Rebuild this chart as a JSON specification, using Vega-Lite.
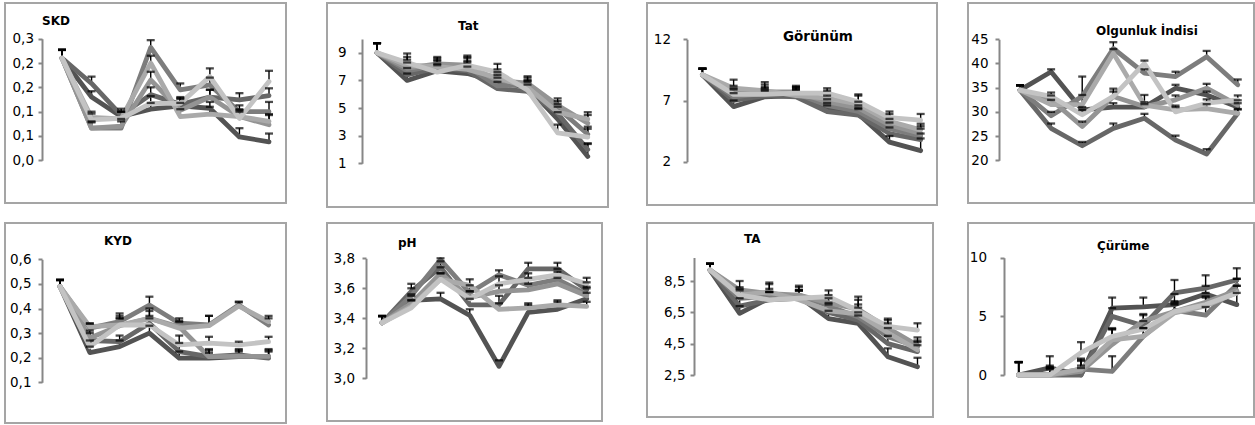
{
"$schema": "https://vega.github.io/schema/vega-lite/v6.json",
"padding": {"left": 4, "top": 2, "right": 0, "bottom": 0},
"config": {
 "view": {"stroke": "#a5a5a5", "strokeWidth": 2},
 "axis": {"domainColor": "#878787", "domainWidth": 2, "tickColor": "#878787", "tickWidth": 2, "tickSize": 4, "gridColor": "#878787", "gridWidth": 2, "gridOpacity": 1, "labelFont": "DejaVu Sans", "labelFontSize": 13.5, "labelColor": "#000000"},
 "title": {"font": "DejaVu Sans", "fontWeight": "bold", "color": "#000000", "fontSize": 12, "anchor": "start", "frame": "group"},
 "line": {"strokeWidth": 4.8, "strokeJoin": "round", "strokeCap": "round"},
 "rule": {"color": "#000000", "strokeWidth": 1.4},
 "tick": {"color": "#000000", "thickness": 2.3, "size": 8, "orient": "horizontal"}
},
"datasets": {
 "SKD": [
  {"s":"s1","i":1,"v":0.21,"hi":0.227},{"s":"s1","i":2,"v":0.13,"hi":0.142},{"s":"s1","i":3,"v":0.09,"hi":0.1},{"s":"s1","i":4,"v":0.105,"hi":0.118},{"s":"s1","i":5,"v":0.112,"hi":0.126},{"s":"s1","i":6,"v":0.107,"hi":0.12},{"s":"s1","i":7,"v":0.048,"hi":0.066},{"s":"s1","i":8,"v":0.038,"hi":0.055},
  {"s":"s2","i":1,"v":0.21,"hi":0.227},{"s":"s2","i":2,"v":0.158,"hi":0.172},{"s":"s2","i":3,"v":0.093,"hi":0.106},{"s":"s2","i":4,"v":0.135,"hi":0.15},{"s":"s2","i":5,"v":0.115,"hi":0.128},{"s":"s2","i":6,"v":0.13,"hi":0.145},{"s":"s2","i":7,"v":0.124,"hi":0.138},{"s":"s2","i":8,"v":0.133,"hi":0.148},
  {"s":"s3","i":1,"v":0.21,"hi":0.227},{"s":"s3","i":2,"v":0.066,"hi":0.078},{"s":"s3","i":3,"v":0.066,"hi":0.08},{"s":"s3","i":4,"v":0.232,"hi":0.247},{"s":"s3","i":5,"v":0.145,"hi":0.158},{"s":"s3","i":6,"v":0.155,"hi":0.17},{"s":"s3","i":7,"v":0.1,"hi":0.113},{"s":"s3","i":8,"v":0.1,"hi":0.12},
  {"s":"s4","i":1,"v":0.21,"hi":0.227},{"s":"s4","i":2,"v":0.066,"hi":0.08},{"s":"s4","i":3,"v":0.07,"hi":0.085},{"s":"s4","i":4,"v":0.165,"hi":0.182},{"s":"s4","i":5,"v":0.103,"hi":0.118},{"s":"s4","i":6,"v":0.13,"hi":0.145},{"s":"s4","i":7,"v":0.09,"hi":0.105},{"s":"s4","i":8,"v":0.073,"hi":0.093},
  {"s":"s5","i":1,"v":0.21,"hi":0.227},{"s":"s5","i":2,"v":0.088,"hi":0.1},{"s":"s5","i":3,"v":0.085,"hi":0.1},{"s":"s5","i":4,"v":0.2,"hi":0.215},{"s":"s5","i":5,"v":0.09,"hi":0.105},{"s":"s5","i":6,"v":0.095,"hi":0.11},{"s":"s5","i":7,"v":0.09,"hi":0.103},{"s":"s5","i":8,"v":0.08,"hi":0.095},
  {"s":"s6","i":1,"v":0.21,"hi":0.227},{"s":"s6","i":2,"v":0.083,"hi":0.096},{"s":"s6","i":3,"v":0.086,"hi":0.1},{"s":"s6","i":4,"v":0.117,"hi":0.132},{"s":"s6","i":5,"v":0.117,"hi":0.13},{"s":"s6","i":6,"v":0.172,"hi":0.189},{"s":"s6","i":7,"v":0.086,"hi":0.1},{"s":"s6","i":8,"v":0.162,"hi":0.184}
 ],
 "Tat": [
  {"s":"s1","i":1,"v":9.0,"hi":9.7},{"s":"s1","i":2,"v":7.0,"hi":7.5},{"s":"s1","i":3,"v":7.7,"hi":8.2},{"s":"s1","i":4,"v":7.5,"hi":8.0},{"s":"s1","i":5,"v":6.9,"hi":7.4},{"s":"s1","i":6,"v":6.5,"hi":7.0},{"s":"s1","i":7,"v":4.2,"hi":4.7},{"s":"s1","i":8,"v":1.5,"hi":2.4},
  {"s":"s2","i":1,"v":9.0,"hi":9.7},{"s":"s2","i":2,"v":7.4,"hi":7.9},{"s":"s2","i":3,"v":7.9,"hi":8.4},{"s":"s2","i":4,"v":7.7,"hi":8.3},{"s":"s2","i":5,"v":6.4,"hi":6.9},{"s":"s2","i":6,"v":6.2,"hi":6.7},{"s":"s2","i":7,"v":4.6,"hi":5.1},{"s":"s2","i":8,"v":2.0,"hi":2.45},
  {"s":"s3","i":1,"v":9.0,"hi":9.7},{"s":"s3","i":2,"v":7.7,"hi":8.3},{"s":"s3","i":3,"v":8.1,"hi":8.6},{"s":"s3","i":4,"v":8.0,"hi":8.6},{"s":"s3","i":5,"v":6.6,"hi":7.2},{"s":"s3","i":6,"v":6.7,"hi":7.2},{"s":"s3","i":7,"v":5.0,"hi":5.5},{"s":"s3","i":8,"v":3.1,"hi":3.65},
  {"s":"s4","i":1,"v":9.0,"hi":9.7},{"s":"s4","i":2,"v":7.9,"hi":8.5},{"s":"s4","i":3,"v":8.2,"hi":8.7},{"s":"s4","i":4,"v":8.1,"hi":8.7},{"s":"s4","i":5,"v":7.0,"hi":7.6},{"s":"s4","i":6,"v":6.8,"hi":7.3},{"s":"s4","i":7,"v":5.2,"hi":5.7},{"s":"s4","i":8,"v":3.9,"hi":4.5},
  {"s":"s5","i":1,"v":9.0,"hi":9.7},{"s":"s5","i":2,"v":8.1,"hi":8.7},{"s":"s5","i":3,"v":8.0,"hi":8.5},{"s":"s5","i":4,"v":7.8,"hi":8.4},{"s":"s5","i":5,"v":7.2,"hi":7.8},{"s":"s5","i":6,"v":6.5,"hi":7.0},{"s":"s5","i":7,"v":4.7,"hi":5.3},{"s":"s5","i":8,"v":4.2,"hi":4.7},
  {"s":"s6","i":1,"v":9.0,"hi":9.7},{"s":"s6","i":2,"v":8.3,"hi":8.95},{"s":"s6","i":3,"v":7.6,"hi":8.1},{"s":"s6","i":4,"v":8.1,"hi":8.8},{"s":"s6","i":5,"v":7.6,"hi":8.2},{"s":"s6","i":6,"v":6.3,"hi":6.9},{"s":"s6","i":7,"v":3.2,"hi":3.8},{"s":"s6","i":8,"v":2.9,"hi":3.5}
 ],
 "Gorunum": [
  {"s":"s1","i":1,"v":9.1,"hi":9.6},{"s":"s1","i":2,"v":6.5,"hi":7.0},{"s":"s1","i":3,"v":7.3,"hi":7.8},{"s":"s1","i":4,"v":7.4,"hi":7.9},{"s":"s1","i":5,"v":6.3,"hi":6.8},{"s":"s1","i":6,"v":5.9,"hi":6.4},{"s":"s1","i":7,"v":3.6,"hi":4.1},{"s":"s1","i":8,"v":2.9,"hi":3.9},
  {"s":"s2","i":1,"v":9.1,"hi":9.6},{"s":"s2","i":2,"v":7.0,"hi":7.6},{"s":"s2","i":3,"v":7.4,"hi":7.9},{"s":"s2","i":4,"v":7.3,"hi":7.9},{"s":"s2","i":5,"v":6.1,"hi":6.6},{"s":"s2","i":6,"v":5.8,"hi":6.3},{"s":"s2","i":7,"v":4.3,"hi":4.8},{"s":"s2","i":8,"v":3.8,"hi":4.3},
  {"s":"s3","i":1,"v":9.1,"hi":9.6},{"s":"s3","i":2,"v":7.3,"hi":7.9},{"s":"s3","i":3,"v":7.6,"hi":8.1},{"s":"s3","i":4,"v":7.6,"hi":8.1},{"s":"s3","i":5,"v":6.6,"hi":7.1},{"s":"s3","i":6,"v":6.1,"hi":6.6},{"s":"s3","i":7,"v":4.7,"hi":5.2},{"s":"s3","i":8,"v":4.1,"hi":4.7},
  {"s":"s4","i":1,"v":9.1,"hi":9.6},{"s":"s4","i":2,"v":7.6,"hi":8.2},{"s":"s4","i":3,"v":7.7,"hi":8.3},{"s":"s4","i":4,"v":7.7,"hi":8.2},{"s":"s4","i":5,"v":6.9,"hi":7.4},{"s":"s4","i":6,"v":6.4,"hi":6.9},{"s":"s4","i":7,"v":5.0,"hi":5.5},{"s":"s4","i":8,"v":4.3,"hi":4.9},
  {"s":"s5","i":1,"v":9.1,"hi":9.6},{"s":"s5","i":2,"v":8.0,"hi":8.7},{"s":"s5","i":3,"v":7.8,"hi":8.5},{"s":"s5","i":4,"v":7.4,"hi":8.0},{"s":"s5","i":5,"v":7.2,"hi":7.8},{"s":"s5","i":6,"v":6.7,"hi":7.4},{"s":"s5","i":7,"v":5.3,"hi":5.9},{"s":"s5","i":8,"v":4.6,"hi":5.1},
  {"s":"s6","i":1,"v":9.1,"hi":9.6},{"s":"s6","i":2,"v":7.5,"hi":8.0},{"s":"s6","i":3,"v":7.5,"hi":8.0},{"s":"s6","i":4,"v":7.6,"hi":8.1},{"s":"s6","i":5,"v":7.6,"hi":8.0},{"s":"s6","i":6,"v":6.9,"hi":7.5},{"s":"s6","i":7,"v":5.6,"hi":6.1},{"s":"s6","i":8,"v":5.4,"hi":5.9}
 ],
 "Olgunluk": [
  {"s":"s1","i":1,"v":34.5,"hi":35.5},{"s":"s1","i":2,"v":38.3,"hi":38.8},{"s":"s1","i":3,"v":30.4,"hi":31.0},{"s":"s1","i":4,"v":31.0,"hi":31.8},{"s":"s1","i":5,"v":31.0,"hi":31.6},{"s":"s1","i":6,"v":34.9,"hi":35.6},{"s":"s1","i":7,"v":33.5,"hi":34.2},{"s":"s1","i":8,"v":31.0,"hi":31.8},
  {"s":"s2","i":1,"v":34.5,"hi":35.5},{"s":"s2","i":2,"v":26.6,"hi":27.6},{"s":"s2","i":3,"v":23.0,"hi":23.8},{"s":"s2","i":4,"v":26.6,"hi":27.6},{"s":"s2","i":5,"v":28.7,"hi":29.6},{"s":"s2","i":6,"v":24.2,"hi":25.1},{"s":"s2","i":7,"v":21.3,"hi":22.3},{"s":"s2","i":8,"v":29.7,"hi":30.5},
  {"s":"s3","i":1,"v":34.5,"hi":35.5},{"s":"s3","i":2,"v":29.2,"hi":30.0},{"s":"s3","i":3,"v":33.2,"hi":37.3},{"s":"s3","i":4,"v":43.1,"hi":44.4},{"s":"s3","i":5,"v":38.0,"hi":38.8},{"s":"s3","i":6,"v":37.3,"hi":38.3},{"s":"s3","i":7,"v":41.4,"hi":42.6},{"s":"s3","i":8,"v":35.6,"hi":36.7},
  {"s":"s4","i":1,"v":34.5,"hi":35.5},{"s":"s4","i":2,"v":32.5,"hi":33.4},{"s":"s4","i":3,"v":27.0,"hi":28.0},{"s":"s4","i":4,"v":33.2,"hi":34.2},{"s":"s4","i":5,"v":31.1,"hi":32.0},{"s":"s4","i":6,"v":32.5,"hi":33.4},{"s":"s4","i":7,"v":34.9,"hi":35.8},{"s":"s4","i":8,"v":31.4,"hi":32.4},
  {"s":"s5","i":1,"v":34.5,"hi":35.5},{"s":"s5","i":2,"v":31.5,"hi":32.5},{"s":"s5","i":3,"v":31.5,"hi":33.5},{"s":"s5","i":4,"v":42.1,"hi":43.0},{"s":"s5","i":5,"v":31.4,"hi":33.5},{"s":"s5","i":6,"v":30.4,"hi":31.3},{"s":"s5","i":7,"v":30.7,"hi":31.6},{"s":"s5","i":8,"v":29.7,"hi":30.6},
  {"s":"s6","i":1,"v":34.5,"hi":35.5},{"s":"s6","i":2,"v":33.2,"hi":34.0},{"s":"s6","i":3,"v":29.4,"hi":30.4},{"s":"s6","i":4,"v":33.2,"hi":34.8},{"s":"s6","i":5,"v":40.0,"hi":40.6},{"s":"s6","i":6,"v":30.0,"hi":31.0},{"s":"s6","i":7,"v":31.8,"hi":32.6},{"s":"s6","i":8,"v":32.5,"hi":33.4}
 ],
 "KYD": [
  {"s":"s1","i":1,"v":0.489,"hi":0.516},{"s":"s1","i":2,"v":0.221,"hi":0.245},{"s":"s1","i":3,"v":0.245,"hi":0.27},{"s":"s1","i":4,"v":0.3,"hi":0.33},{"s":"s1","i":5,"v":0.198,"hi":0.225},{"s":"s1","i":6,"v":0.198,"hi":0.22},{"s":"s1","i":7,"v":0.204,"hi":0.225},{"s":"s1","i":8,"v":0.204,"hi":0.23},
  {"s":"s2","i":1,"v":0.489,"hi":0.516},{"s":"s2","i":2,"v":0.27,"hi":0.3},{"s":"s2","i":3,"v":0.265,"hi":0.29},{"s":"s2","i":4,"v":0.34,"hi":0.37},{"s":"s2","i":5,"v":0.225,"hi":0.26},{"s":"s2","i":6,"v":0.204,"hi":0.235},{"s":"s2","i":7,"v":0.211,"hi":0.235},{"s":"s2","i":8,"v":0.198,"hi":0.225},
  {"s":"s3","i":1,"v":0.489,"hi":0.516},{"s":"s3","i":2,"v":0.32,"hi":0.34},{"s":"s3","i":3,"v":0.347,"hi":0.38},{"s":"s3","i":4,"v":0.414,"hi":0.448},{"s":"s3","i":5,"v":0.34,"hi":0.36},{"s":"s3","i":6,"v":0.333,"hi":0.37},{"s":"s3","i":7,"v":0.414,"hi":0.428},{"s":"s3","i":8,"v":0.333,"hi":0.36},
  {"s":"s4","i":1,"v":0.489,"hi":0.516},{"s":"s4","i":2,"v":0.28,"hi":0.31},{"s":"s4","i":3,"v":0.33,"hi":0.36},{"s":"s4","i":4,"v":0.36,"hi":0.4},{"s":"s4","i":5,"v":0.326,"hi":0.35},{"s":"s4","i":6,"v":0.204,"hi":0.23},{"s":"s4","i":7,"v":0.205,"hi":0.23},{"s":"s4","i":8,"v":0.205,"hi":0.235},
  {"s":"s5","i":1,"v":0.489,"hi":0.516},{"s":"s5","i":2,"v":0.326,"hi":0.338},{"s":"s5","i":3,"v":0.333,"hi":0.37},{"s":"s5","i":4,"v":0.36,"hi":0.39},{"s":"s5","i":5,"v":0.32,"hi":0.345},{"s":"s5","i":6,"v":0.33,"hi":0.37},{"s":"s5","i":7,"v":0.41,"hi":0.425},{"s":"s5","i":8,"v":0.347,"hi":0.37},
  {"s":"s6","i":1,"v":0.489,"hi":0.516},{"s":"s6","i":2,"v":0.245,"hi":0.27},{"s":"s6","i":3,"v":0.333,"hi":0.36},{"s":"s6","i":4,"v":0.333,"hi":0.36},{"s":"s6","i":5,"v":0.252,"hi":0.29},{"s":"s6","i":6,"v":0.259,"hi":0.285},{"s":"s6","i":7,"v":0.252,"hi":0.265},{"s":"s6","i":8,"v":0.265,"hi":0.285}
 ],
 "pH": [
  {"s":"s1","i":1,"v":3.37,"hi":3.415},{"s":"s1","i":2,"v":3.52,"hi":3.56},{"s":"s1","i":3,"v":3.53,"hi":3.57},{"s":"s1","i":4,"v":3.42,"hi":3.46},{"s":"s1","i":5,"v":3.08,"hi":3.12},{"s":"s1","i":6,"v":3.44,"hi":3.49},{"s":"s1","i":7,"v":3.46,"hi":3.51},{"s":"s1","i":8,"v":3.53,"hi":3.57},
  {"s":"s2","i":1,"v":3.37,"hi":3.415},{"s":"s2","i":2,"v":3.58,"hi":3.63},{"s":"s2","i":3,"v":3.74,"hi":3.78},{"s":"s2","i":4,"v":3.49,"hi":3.53},{"s":"s2","i":5,"v":3.49,"hi":3.55},{"s":"s2","i":6,"v":3.73,"hi":3.77},{"s":"s2","i":7,"v":3.73,"hi":3.77},{"s":"s2","i":8,"v":3.59,"hi":3.64},
  {"s":"s3","i":1,"v":3.37,"hi":3.415},{"s":"s3","i":2,"v":3.55,"hi":3.6},{"s":"s3","i":3,"v":3.79,"hi":3.8},{"s":"s3","i":4,"v":3.57,"hi":3.62},{"s":"s3","i":5,"v":3.69,"hi":3.72},{"s":"s3","i":6,"v":3.62,"hi":3.67},{"s":"s3","i":7,"v":3.66,"hi":3.71},{"s":"s3","i":8,"v":3.56,"hi":3.61},
  {"s":"s4","i":1,"v":3.37,"hi":3.415},{"s":"s4","i":2,"v":3.5,"hi":3.55},{"s":"s4","i":3,"v":3.7,"hi":3.74},{"s":"s4","i":4,"v":3.54,"hi":3.58},{"s":"s4","i":5,"v":3.58,"hi":3.62},{"s":"s4","i":6,"v":3.59,"hi":3.63},{"s":"s4","i":7,"v":3.63,"hi":3.67},{"s":"s4","i":8,"v":3.55,"hi":3.6},
  {"s":"s5","i":1,"v":3.37,"hi":3.415},{"s":"s5","i":2,"v":3.48,"hi":3.52},{"s":"s5","i":3,"v":3.66,"hi":3.7},{"s":"s5","i":4,"v":3.62,"hi":3.66},{"s":"s5","i":5,"v":3.46,"hi":3.5},{"s":"s5","i":6,"v":3.47,"hi":3.5},{"s":"s5","i":7,"v":3.49,"hi":3.52},{"s":"s5","i":8,"v":3.48,"hi":3.51},
  {"s":"s6","i":1,"v":3.37,"hi":3.415},{"s":"s6","i":2,"v":3.47,"hi":3.52},{"s":"s6","i":3,"v":3.66,"hi":3.7},{"s":"s6","i":4,"v":3.53,"hi":3.58},{"s":"s6","i":5,"v":3.63,"hi":3.68},{"s":"s6","i":6,"v":3.66,"hi":3.7},{"s":"s6","i":7,"v":3.69,"hi":3.73},{"s":"s6","i":8,"v":3.63,"hi":3.67}
 ],
 "TA": [
  {"s":"s1","i":1,"v":9.2,"hi":9.6},{"s":"s1","i":2,"v":6.44,"hi":6.9},{"s":"s1","i":3,"v":7.4,"hi":7.8},{"s":"s1","i":4,"v":7.5,"hi":7.9},{"s":"s1","i":5,"v":6.1,"hi":6.6},{"s":"s1","i":6,"v":5.8,"hi":6.3},{"s":"s1","i":7,"v":3.67,"hi":4.2},{"s":"s1","i":8,"v":3.03,"hi":3.6},
  {"s":"s2","i":1,"v":9.2,"hi":9.6},{"s":"s2","i":2,"v":6.9,"hi":7.4},{"s":"s2","i":3,"v":7.3,"hi":7.8},{"s":"s2","i":4,"v":7.4,"hi":7.9},{"s":"s2","i":5,"v":6.5,"hi":7.0},{"s":"s2","i":6,"v":6.0,"hi":6.5},{"s":"s2","i":7,"v":4.5,"hi":5.0},{"s":"s2","i":8,"v":3.99,"hi":4.4},
  {"s":"s3","i":1,"v":9.2,"hi":9.6},{"s":"s3","i":2,"v":7.4,"hi":7.9},{"s":"s3","i":3,"v":7.5,"hi":8.0},{"s":"s3","i":4,"v":7.6,"hi":8.1},{"s":"s3","i":5,"v":6.9,"hi":7.4},{"s":"s3","i":6,"v":6.2,"hi":6.8},{"s":"s3","i":7,"v":4.95,"hi":5.5},{"s":"s3","i":8,"v":4.3,"hi":4.7},
  {"s":"s4","i":1,"v":9.2,"hi":9.6},{"s":"s4","i":2,"v":7.93,"hi":8.5},{"s":"s4","i":3,"v":7.7,"hi":8.3},{"s":"s4","i":4,"v":7.6,"hi":8.2},{"s":"s4","i":5,"v":7.1,"hi":7.6},{"s":"s4","i":6,"v":6.7,"hi":7.3},{"s":"s4","i":7,"v":5.5,"hi":6.0},{"s":"s4","i":8,"v":4.4,"hi":4.9},
  {"s":"s5","i":1,"v":9.2,"hi":9.6},{"s":"s5","i":2,"v":7.6,"hi":8.1},{"s":"s5","i":3,"v":7.8,"hi":8.4},{"s":"s5","i":4,"v":7.3,"hi":7.9},{"s":"s5","i":5,"v":6.6,"hi":7.1},{"s":"s5","i":6,"v":6.4,"hi":7.0},{"s":"s5","i":7,"v":5.2,"hi":5.8},{"s":"s5","i":8,"v":4.1,"hi":4.6},
  {"s":"s6","i":1,"v":9.2,"hi":9.6},{"s":"s6","i":2,"v":7.6,"hi":8.0},{"s":"s6","i":3,"v":7.3,"hi":7.8},{"s":"s6","i":4,"v":7.4,"hi":7.9},{"s":"s6","i":5,"v":7.5,"hi":7.9},{"s":"s6","i":6,"v":6.6,"hi":7.5},{"s":"s6","i":7,"v":5.6,"hi":6.1},{"s":"s6","i":8,"v":5.37,"hi":5.8}
 ],
 "Curume": [
  {"s":"s1","i":1,"v":0,"hi":1.1},{"s":"s1","i":2,"v":0.6,"hi":1.6},{"s":"s1","i":3,"v":0,"hi":0.8},{"s":"s1","i":4,"v":5.7,"hi":6.6},{"s":"s1","i":5,"v":5.8,"hi":6.6},{"s":"s1","i":6,"v":6.0,"hi":6.9},{"s":"s1","i":7,"v":6.9,"hi":7.6},{"s":"s1","i":8,"v":6.0,"hi":7.0},
  {"s":"s2","i":1,"v":0,"hi":1.1},{"s":"s2","i":2,"v":0,"hi":0.8},{"s":"s2","i":3,"v":0,"hi":0.6},{"s":"s2","i":4,"v":5.0,"hi":5.7},{"s":"s2","i":5,"v":4.2,"hi":5.2},{"s":"s2","i":6,"v":7.0,"hi":8.1},{"s":"s2","i":7,"v":7.4,"hi":8.5},{"s":"s2","i":8,"v":8.1,"hi":9.1},
  {"s":"s3","i":1,"v":0,"hi":1.1},{"s":"s3","i":2,"v":0,"hi":0.7},{"s":"s3","i":3,"v":0.5,"hi":1.2},{"s":"s3","i":4,"v":0.3,"hi":1.6},{"s":"s3","i":5,"v":3.3,"hi":4.0},{"s":"s3","i":6,"v":5.5,"hi":6.3},{"s":"s3","i":7,"v":5.1,"hi":5.8},{"s":"s3","i":8,"v":7.7,"hi":8.2},
  {"s":"s4","i":1,"v":0,"hi":1.1},{"s":"s4","i":2,"v":0,"hi":0.6},{"s":"s4","i":3,"v":0.3,"hi":1.3},{"s":"s4","i":4,"v":2.6,"hi":3.9},{"s":"s4","i":5,"v":4.6,"hi":5.1},{"s":"s4","i":6,"v":5.4,"hi":6.2},{"s":"s4","i":7,"v":6.2,"hi":7.0},{"s":"s4","i":8,"v":7.2,"hi":8.2},
  {"s":"s5","i":1,"v":0,"hi":1.1},{"s":"s5","i":2,"v":0,"hi":0.5},{"s":"s5","i":3,"v":0.5,"hi":1.4},{"s":"s5","i":4,"v":3.0,"hi":3.9},{"s":"s5","i":5,"v":3.3,"hi":4.0},{"s":"s5","i":6,"v":5.3,"hi":6.0},{"s":"s5","i":7,"v":5.9,"hi":6.6},{"s":"s5","i":8,"v":7.0,"hi":7.6},
  {"s":"s6","i":1,"v":0,"hi":1.1},{"s":"s6","i":2,"v":0,"hi":0.6},{"s":"s6","i":3,"v":1.9,"hi":2.8},{"s":"s6","i":4,"v":3.3,"hi":4.0},{"s":"s6","i":5,"v":3.9,"hi":4.6},{"s":"s6","i":6,"v":5.4,"hi":6.1},{"s":"s6","i":7,"v":6.0,"hi":6.7},{"s":"s6","i":8,"v":7.0,"hi":7.6}
 ]
},
"vconcat": [
 {"hconcat": [
  {"hconcat": [
   {"width": 281, "height": 200, "data": {"name": "SKD"},
    "title": {"text": "SKD", "dx": 37, "offset": -25},
    "resolve": {"axis": {"y": "independent"}},
    "encoding": {"x": {"field": "i", "type": "quantitative", "axis": null, "scale": {"domain": [0.324, 8.507], "range": [37, 279], "nice": false, "zero": false}}},
    "layer": [
     {"mark": "rule", "encoding": {"y": {"field": "v", "type": "quantitative", "scale": {"domain": [0, 0.25], "range": [157.3, 35.7], "nice": false, "zero": false}, "axis": null}, "y2": {"field": "hi"}}},
     {"mark": "line", "encoding": {
       "y": {"field": "v", "type": "quantitative", "scale": {"domain": [0, 0.25], "range": [157.3, 35.7], "nice": false, "zero": false}, "axis": {"title": null, "values": [0, 0.05, 0.1, 0.15, 0.2, 0.25], "offset": -37, "labelPadding": 4.5, "labelExpr": "replace(format(datum.value + 0.0001, '.1f'), '.', ',')"}},
       "color": {"field": "s", "type": "nominal", "legend": null, "scale": {"domain": ["s1","s2","s3","s4","s5","s6"], "range": ["#535353","#676767","#7d7d7d","#949494","#aaaaaa","#c3c3c3"]}}}},
     {"mark": "tick", "encoding": {"y": {"field": "hi", "type": "quantitative", "scale": {"domain": [0, 0.25], "range": [157.3, 35.7], "nice": false, "zero": false}, "axis": null}}}
    ]},
   {"width": 281, "height": 204, "data": {"name": "Tat"},
    "title": {"text": "Tat", "dx": 131, "offset": -29.5},
    "resolve": {"axis": {"y": "independent"}},
    "encoding": {"x": {"field": "i", "type": "quantitative", "axis": null, "scale": {"domain": [0.5, 8.44], "range": [35, 274], "nice": false, "zero": false}}},
    "layer": [
     {"mark": "rule", "encoding": {"y": {"field": "v", "type": "quantitative", "scale": {"domain": [1, 10], "range": [160.3, 36], "nice": false, "zero": false}, "axis": null}, "y2": {"field": "hi"}}},
     {"mark": "line", "encoding": {
       "y": {"field": "v", "type": "quantitative", "scale": {"domain": [1, 10], "range": [160.3, 36], "nice": false, "zero": false}, "axis": {"title": null, "values": [1, 3, 5, 7, 9], "offset": -35, "labelPadding": 12, "format": "d"}},
       "color": {"field": "s", "type": "nominal", "legend": null, "scale": {"domain": ["s1","s2","s3","s4","s5","s6"], "range": ["#535353","#676767","#7d7d7d","#949494","#aaaaaa","#c3c3c3"]}}}},
     {"mark": "tick", "encoding": {"y": {"field": "hi", "type": "quantitative", "scale": {"domain": [1, 10], "range": [160.3, 36], "nice": false, "zero": false}, "axis": null}}}
    ]}
  ], "spacing": 39},
  {"hconcat": [
   {"width": 290, "height": 202, "data": {"name": "Gorunum"},
    "title": {"text": "Görünüm", "dx": 136, "offset": -40, "fontSize": 13.5},
    "resolve": {"axis": {"y": "independent"}},
    "encoding": {"x": {"field": "i", "type": "quantitative", "axis": null, "scale": {"domain": [0.505, 8.46], "range": [40, 288], "nice": false, "zero": false}}},
    "layer": [
     {"mark": "rule", "encoding": {"y": {"field": "v", "type": "quantitative", "scale": {"domain": [2, 12], "range": [158.7, 36.3], "nice": false, "zero": false}, "axis": null}, "y2": {"field": "hi"}}},
     {"mark": "line", "encoding": {
       "y": {"field": "v", "type": "quantitative", "scale": {"domain": [2, 12], "range": [158.7, 36.3], "nice": false, "zero": false}, "axis": {"title": null, "values": [2, 7, 12], "offset": -40, "labelPadding": 12.5, "format": "d"}},
       "color": {"field": "s", "type": "nominal", "legend": null, "scale": {"domain": ["s1","s2","s3","s4","s5","s6"], "range": ["#535353","#676767","#7d7d7d","#949494","#aaaaaa","#c3c3c3"]}}}},
     {"mark": "tick", "encoding": {"y": {"field": "hi", "type": "quantitative", "scale": {"domain": [2, 12], "range": [158.7, 36.3], "nice": false, "zero": false}, "axis": null}}}
    ]},
   {"width": 286, "height": 200, "data": {"name": "Olgunluk"},
    "title": {"text": "Olgunluk İndisi", "dx": 128, "offset": -34.5},
    "resolve": {"axis": {"y": "independent"}},
    "encoding": {"x": {"field": "i", "type": "quantitative", "axis": null, "scale": {"domain": [0.325, 8.49], "range": [31, 285], "nice": false, "zero": false}}},
    "layer": [
     {"mark": "rule", "encoding": {"y": {"field": "v", "type": "quantitative", "scale": {"domain": [20, 45], "range": [157.3, 36.3], "nice": false, "zero": false}, "axis": null}, "y2": {"field": "hi"}}},
     {"mark": "line", "encoding": {
       "y": {"field": "v", "type": "quantitative", "scale": {"domain": [20, 45], "range": [157.3, 36.3], "nice": false, "zero": false}, "axis": {"title": null, "values": [20, 25, 30, 35, 40, 45], "offset": -31, "labelPadding": 7, "format": "d"}},
       "color": {"field": "s", "type": "nominal", "legend": null, "scale": {"domain": ["s1","s2","s3","s4","s5","s6"], "range": ["#535353","#5d5d5d","#7d7d7d","#949494","#aaaaaa","#c3c3c3"]}}}},
     {"mark": "tick", "encoding": {"y": {"field": "hi", "type": "quantitative", "scale": {"domain": [20, 45], "range": [157.3, 36.3], "nice": false, "zero": false}, "axis": null}}}
    ]}
  ], "spacing": 29}
 ], "spacing": 37},
 {"hconcat": [
  {"hconcat": [
   {"width": 281, "height": 200, "data": {"name": "KYD"},
    "title": {"text": "KYD", "dx": 99, "offset": -24.5},
    "resolve": {"axis": {"y": "independent"}},
    "encoding": {"x": {"field": "i", "type": "quantitative", "axis": null, "scale": {"domain": [0.395, 8.45], "range": [37, 277], "nice": false, "zero": false}}},
    "layer": [
     {"mark": "rule", "encoding": {"y": {"field": "v", "type": "quantitative", "scale": {"domain": [0.1, 0.6], "range": [159.3, 36.3], "nice": false, "zero": false}, "axis": null}, "y2": {"field": "hi"}}},
     {"mark": "line", "encoding": {
       "y": {"field": "v", "type": "quantitative", "scale": {"domain": [0.1, 0.6], "range": [159.3, 36.3], "nice": false, "zero": false}, "axis": {"title": null, "values": [0.1, 0.2, 0.3, 0.4, 0.5, 0.6], "offset": -37, "labelPadding": 7, "labelExpr": "replace(format(datum.value + 0.0001, '.1f'), '.', ',')"}},
       "color": {"field": "s", "type": "nominal", "legend": null, "scale": {"domain": ["s1","s2","s3","s4","s5","s6"], "range": ["#535353","#676767","#7d7d7d","#949494","#aaaaaa","#c3c3c3"]}}}},
     {"mark": "tick", "encoding": {"y": {"field": "hi", "type": "quantitative", "scale": {"domain": [0.1, 0.6], "range": [159.3, 36.3], "nice": false, "zero": false}, "axis": null}}}
    ]},
   {"width": 275, "height": 198, "data": {"name": "pH"},
    "title": {"text": "pH", "dx": 71, "offset": -26.5},
    "resolve": {"axis": {"y": "independent"}},
    "encoding": {"x": {"field": "i", "type": "quantitative", "axis": null, "scale": {"domain": [0.45, 8.49], "range": [39, 274], "nice": false, "zero": false}}},
    "layer": [
     {"mark": "rule", "encoding": {"y": {"field": "v", "type": "quantitative", "scale": {"domain": [3.0, 3.8], "range": [155.3, 35.3], "nice": false, "zero": false}, "axis": null}, "y2": {"field": "hi"}}},
     {"mark": "line", "encoding": {
       "y": {"field": "v", "type": "quantitative", "scale": {"domain": [3.0, 3.8], "range": [155.3, 35.3], "nice": false, "zero": false}, "axis": {"title": null, "values": [3.0, 3.2, 3.4, 3.6, 3.8], "offset": -39, "labelPadding": 7.4, "labelExpr": "replace(format(datum.value + 0.0001, '.1f'), '.', ',')"}},
       "color": {"field": "s", "type": "nominal", "legend": null, "scale": {"domain": ["s1","s2","s3","s4","s5","s6"], "range": ["#535353","#676767","#7d7d7d","#949494","#aaaaaa","#c3c3c3"]}}}},
     {"mark": "tick", "encoding": {"y": {"field": "hi", "type": "quantitative", "scale": {"domain": [3.0, 3.8], "range": [155.3, 35.3], "nice": false, "zero": false}, "axis": null}}}
    ]}
  ], "spacing": 39},
  {"hconcat": [
   {"width": 286, "height": 194, "data": {"name": "TA"},
    "title": {"text": "TA", "dx": 97, "offset": -22.5},
    "resolve": {"axis": {"y": "independent"}},
    "encoding": {"x": {"field": "i", "type": "quantitative", "axis": null, "scale": {"domain": [0.46, 8.49], "range": [47, 285], "nice": false, "zero": false}}},
    "layer": [
     {"mark": "rule", "encoding": {"y": {"field": "v", "type": "quantitative", "scale": {"domain": [2.5, 10], "range": [152, 34.5], "nice": false, "zero": false}, "axis": null}, "y2": {"field": "hi"}}},
     {"mark": "line", "encoding": {
       "y": {"field": "v", "type": "quantitative", "scale": {"domain": [2.5, 10], "range": [152, 34.5], "nice": false, "zero": false}, "axis": {"title": null, "values": [2.5, 4.5, 6.5, 8.5], "offset": -47, "labelPadding": 5, "labelExpr": "replace(format(datum.value + 0.0001, '.1f'), '.', ',')"}},
       "color": {"field": "s", "type": "nominal", "legend": null, "scale": {"domain": ["s1","s2","s3","s4","s5","s6"], "range": ["#535353","#676767","#7d7d7d","#949494","#aaaaaa","#c3c3c3"]}}}},
     {"mark": "tick", "encoding": {"y": {"field": "hi", "type": "quantitative", "scale": {"domain": [2.5, 10], "range": [152, 34.5], "nice": false, "zero": false}, "axis": null}}}
    ]},
   {"width": 286, "height": 194, "data": {"name": "Curume"},
    "title": {"text": "Çürüme", "dx": 129, "offset": -29.5},
    "resolve": {"axis": {"y": "independent"}},
    "encoding": {"x": {"field": "i", "type": "quantitative", "axis": null, "scale": {"domain": [0.53, 8.52], "range": [36, 285], "nice": false, "zero": false}}},
    "layer": [
     {"mark": "rule", "encoding": {"y": {"field": "v", "type": "quantitative", "scale": {"domain": [0, 10], "range": [152, 34.7], "nice": false, "zero": false}, "axis": null}, "y2": {"field": "hi"}}},
     {"mark": "line", "encoding": {
       "y": {"field": "v", "type": "quantitative", "scale": {"domain": [0, 10], "range": [152, 34.7], "nice": false, "zero": false}, "axis": {"title": null, "values": [0, 5, 10], "offset": -36, "labelPadding": 13.5, "format": "d"}},
       "color": {"field": "s", "type": "nominal", "legend": null, "scale": {"domain": ["s1","s2","s3","s4","s5","s6"], "range": ["#535353","#676767","#7d7d7d","#949494","#aaaaaa","#c3c3c3"]}}}},
     {"mark": "tick", "encoding": {"y": {"field": "hi", "type": "quantitative", "scale": {"domain": [0, 10], "range": [152, 34.7], "nice": false, "zero": false}, "axis": null}}}
    ]}
  ], "spacing": 33}
 ], "spacing": 43}
],
"spacing": 14
}
